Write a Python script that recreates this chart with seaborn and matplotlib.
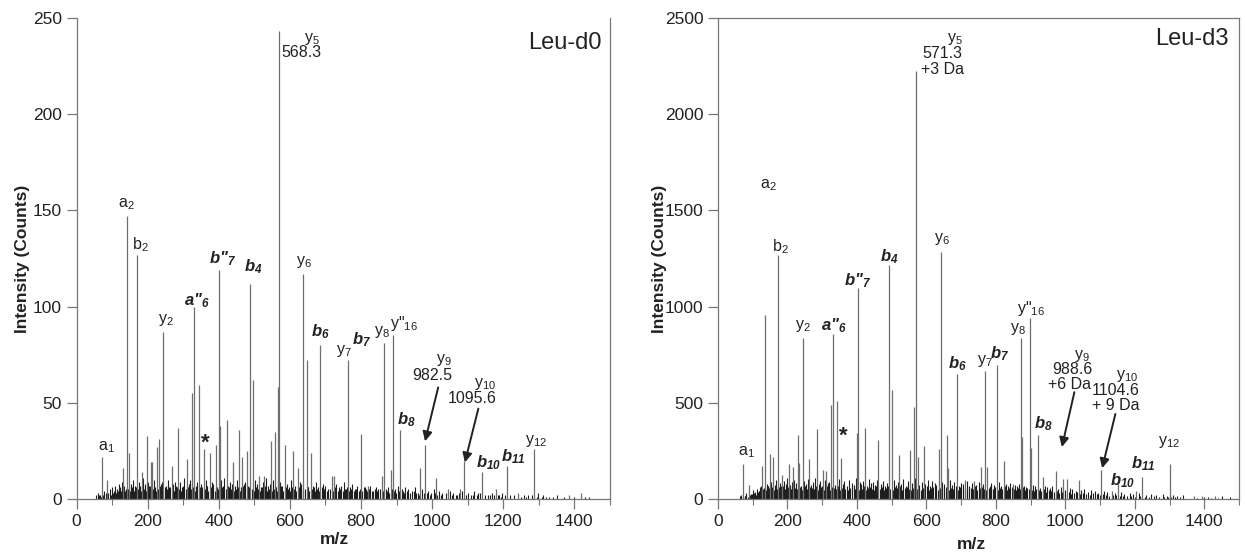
import matplotlib
matplotlib.use("Agg")
import matplotlib.pyplot as plt
import seaborn as sns
import pandas as pd
from matplotlib.ticker import MultipleLocator

# ---------------- data: Leu-d0 (left) ----------------
L_mz = [72, 86, 130, 143, 148, 170, 183, 197, 208, 213, 227, 232, 244, 267, 286, 310, 324, 330, 343, 358,
        374, 391, 400, 402, 422, 441, 457, 466, 478, 489, 497, 514, 528, 548, 558, 566, 568, 585, 608, 622,
        638, 647, 658, 686, 717, 724, 763, 799, 819, 858, 866, 883, 889, 911, 967, 980, 1011, 1044, 1078, 1091,
        1141, 1180, 1211, 1241, 1286, 1386, 1419]
L_int = [22, 10, 16, 147, 24, 127, 14, 33, 19, 19, 27, 31, 87, 17, 37, 21, 55, 100, 59, 26,
         24, 28, 119, 38, 41, 19, 36, 22, 25, 112, 62, 12, 12, 30, 35, 58, 243, 28, 25, 16,
         117, 72, 24, 80, 12, 12, 72, 34, 7, 12, 81, 15, 85, 36, 16, 28, 11, 5, 5, 20,
         14, 5, 17, 3, 26, 2, 3]
LN_mz = [56, 61, 66, 78, 83, 93, 99, 104, 109, 114,
         118, 123, 127, 134, 138, 152, 156, 160, 165, 176,
         179, 188, 192, 201, 204, 217, 221, 237, 240, 251,
         256, 261, 272, 277, 281, 292, 296, 302, 315, 319,
         335, 339, 350, 354, 363, 368, 380, 384, 395, 407,
         411, 416, 428, 432, 437, 446, 450, 462, 471, 475,
         483, 503, 507, 519, 523, 533, 537, 543, 553, 562,
         573, 578, 591, 597, 603, 614, 628, 632, 652, 665,
         672, 679, 693, 700, 708, 730, 737, 744, 751, 757,
         770, 775, 782, 789, 808, 814, 826, 833, 841, 849,
         872, 877, 896, 903, 918, 925, 933, 943, 951, 959,
         972, 988, 996, 1004, 1019, 1029, 1051, 1060, 1069, 1084,
         1100, 1108, 1119, 1129, 1158, 1168, 1189, 1197, 1229, 1258,
         1269, 1299, 1313, 1329, 1350, 1399, 1440]
LN_int = [2, 3, 2, 4, 3, 5, 6, 4, 7, 5,
          8, 6, 9, 7, 5, 8, 6, 10, 7, 9,
          6, 11, 8, 9, 7, 10, 6, 8, 9, 7,
          10, 6, 8, 9, 7, 9, 6, 11, 8, 10,
          7, 9, 8, 6, 10, 7, 9, 8, 6, 10,
          7, 11, 6, 9, 8, 7, 10, 6, 8, 9,
          7, 10, 8, 6, 9, 11, 7, 8, 10, 6,
          9, 7, 8, 6, 10, 7, 9, 8, 6, 7,
          9, 6, 8, 7, 5, 8, 6, 7, 9, 5,
          6, 8, 5, 7, 6, 5, 7, 4, 6, 5,
          4, 6, 5, 7, 4, 6, 5, 4, 6, 3,
          5, 4, 3, 5, 4, 3, 4, 3, 2, 4,
          3, 2, 4, 3, 2, 3, 2, 3, 2, 2,
          2, 3, 2, 1, 2, 1, 1]
LN2_mz = [59, 64, 70, 75, 88, 96, 102, 107, 112, 116,
          120, 125, 129, 132, 136, 141, 146, 150, 154, 158,
          162, 167, 173, 178, 181, 186, 190, 195, 199, 203,
          206, 211, 215, 219, 224, 229, 235, 242, 248, 254,
          259, 264, 270, 275, 283, 289, 294, 300, 307, 313,
          318, 322, 327, 333, 338, 346, 352, 361, 366, 371,
          377, 383, 388, 393, 398, 405, 410, 419, 425, 430,
          435, 439, 444, 449, 455, 460, 468, 473, 481, 486,
          492, 500, 505, 511, 517, 522, 526, 531, 536, 541,
          546, 551, 556, 560, 564, 571, 576, 581, 588, 594,
          599, 606, 611, 617, 625, 630, 636, 643, 650, 655,
          661, 667, 670, 677, 683, 690, 697, 705, 712, 720,
          727, 734, 741, 748, 755, 761, 766, 772, 779, 786,
          793, 797, 804, 811, 817, 823, 830, 838, 845, 853,
          861, 869, 875, 880, 886, 893, 899, 908, 915, 922,
          930, 938, 948, 956, 964, 976, 985, 993, 1008, 1015,
          1025, 1040, 1056, 1066, 1075, 1095, 1115, 1125, 1136, 1150,
          1163, 1175, 1185, 1193, 1205, 1220, 1250, 1265, 1280, 1295,
          1308, 1320, 1340, 1370, 1430]
LN2_int = [1, 2, 1, 2, 3, 2, 3, 4, 3, 4,
           5, 4, 6, 5, 4, 6, 5, 4, 6, 5,
           4, 6, 5, 7, 4, 6, 5, 4, 6, 5,
           7, 4, 5, 6, 4, 5, 7, 4, 6, 5,
           4, 6, 5, 4, 6, 5, 4, 7, 5, 6,
           4, 5, 6, 4, 5, 6, 4, 5, 7, 4,
           6, 5, 4, 6, 5, 4, 6, 5, 7, 4,
           5, 6, 4, 5, 6, 4, 7, 5, 4, 6,
           5, 4, 6, 5, 4, 6, 5, 7, 4, 5,
           6, 4, 5, 6, 4, 5, 7, 4, 6, 5,
           4, 6, 5, 4, 6, 5, 4, 5, 6, 4,
           5, 6, 4, 5, 4, 6, 5, 4, 5, 4,
           6, 4, 5, 4, 5, 6, 4, 5, 4, 5,
           4, 5, 4, 6, 4, 5, 4, 5, 4, 5,
           4, 5, 4, 3, 5, 4, 3, 4, 5, 3,
           4, 3, 4, 3, 2, 3, 3, 2, 3, 2,
           2, 3, 2, 2, 3, 2, 2, 2, 3, 2,
           2, 2, 2, 1, 2, 2, 1, 1, 2, 1,
           1, 1, 1, 1, 1]

# ---------------- data: Leu-d3 (right) ----------------
R_mz = [71, 88, 128, 136, 149, 159, 172, 185, 203, 216, 231, 233, 244, 263, 285, 302, 311, 326, 331, 343,
        354, 400, 403, 423, 462, 493, 501, 522, 554, 563, 570, 575, 592, 635, 641, 660, 662, 689, 712, 737,
        757, 769, 775, 803, 823, 849, 872, 875, 897, 900, 920, 935, 973, 994, 1006, 1038, 1104, 1135, 1152, 1204,
        1221, 1301, 1370, 1392, 1432]
R_int = [182, 75, 173, 957, 234, 217, 1266, 127, 182, 165, 334, 185, 835, 208, 364, 151, 147, 490, 858, 508,
         213, 341, 1095, 367, 308, 1214, 567, 229, 255, 480, 2227, 216, 274, 260, 1284, 334, 161, 650, 100, 95,
         168, 667, 165, 698, 196, 78, 835, 324, 939, 263, 331, 113, 144, 104, 104, 100, 151, 43, 78, 43,
         116, 182, 17, 17, 17]
RN_mz = [62, 67, 77, 82, 95, 100, 106, 112, 117, 121,
         125, 132, 141, 145, 153, 163, 167, 178, 181, 190,
         195, 199, 208, 212, 220, 226, 238, 249, 254, 258,
         268, 273, 279, 290, 294, 298, 307, 316, 320, 336,
         348, 359, 364, 370, 377, 385, 391, 396, 408, 413,
         418, 428, 434, 440, 446, 452, 457, 468, 474, 480,
         486, 507, 512, 517, 528, 534, 540, 546, 558, 566,
         580, 586, 597, 604, 610, 616, 624, 629, 646, 652,
         668, 674, 680, 695, 701, 706, 718, 724, 730, 743,
         750, 763, 782, 787, 795, 809, 815, 830, 836, 842,
         855, 861, 866, 881, 887, 906, 912, 927, 942, 948,
         955, 962, 980, 987, 1000, 1013, 1020, 1030, 1046, 1055,
         1066, 1075, 1085, 1095, 1112, 1120, 1143, 1160, 1170, 1185,
         1194, 1212, 1232, 1248, 1262, 1280, 1292, 1310, 1322, 1340,
         1410, 1450, 1475]
RN_int = [15, 20, 18, 30, 25, 45, 35, 50, 40, 60,
          70, 55, 80, 65, 90, 75, 100, 85, 70, 95,
          80, 110, 75, 90, 100, 85, 70, 95, 80, 105,
          75, 90, 110, 80, 95, 70, 100, 85, 90, 75,
          105, 80, 95, 70, 100, 85, 75, 110, 90, 80,
          95, 70, 105, 85, 90, 75, 100, 80, 95, 70,
          85, 100, 75, 90, 80, 105, 70, 95, 85, 110,
          75, 90, 80, 100, 70, 95, 85, 75, 90, 80,
          100, 75, 90, 70, 85, 80, 95, 70, 85, 75,
          90, 80, 70, 85, 75, 90, 65, 80, 70, 85,
          75, 65, 80, 70, 60, 75, 65, 55, 70, 60,
          55, 65, 50, 60, 45, 55, 50, 40, 45, 50,
          35, 45, 40, 30, 40, 35, 30, 35, 25, 30,
          25, 30, 20, 25, 20, 25, 18, 22, 15, 20,
          12, 15, 10]
RN2_mz = [73, 79, 85, 91, 97, 103, 109, 114, 119, 123,
          127, 130, 134, 139, 143, 147, 151, 156, 161, 165,
          170, 175, 180, 184, 188, 193, 197, 201, 206, 210,
          214, 218, 223, 228, 235, 241, 246, 251, 256, 261,
          266, 271, 276, 282, 287, 292, 296, 300, 305, 309,
          314, 318, 323, 329, 334, 339, 345, 350, 357, 362,
          367, 373, 380, 387, 393, 398, 406, 411, 416, 421,
          426, 431, 437, 443, 449, 455, 460, 465, 471, 477,
          483, 489, 496, 504, 510, 515, 520, 525, 531, 537,
          543, 549, 556, 561, 568, 573, 578, 584, 590, 595,
          601, 607, 613, 619, 627, 633, 639, 644, 650, 656,
          664, 671, 677, 684, 692, 698, 704, 710, 716, 722,
          728, 735, 741, 747, 754, 760, 766, 772, 779, 785,
          791, 798, 806, 812, 818, 826, 833, 839, 846, 852,
          858, 864, 869, 878, 884, 890, 895, 903, 909, 915,
          924, 931, 939, 945, 952, 959, 966, 977, 983, 991,
          998, 1010, 1017, 1025, 1034, 1042, 1050, 1060, 1070, 1080,
          1090, 1100, 1108, 1116, 1125, 1138, 1147, 1156, 1165, 1178,
          1190, 1200, 1215, 1228, 1240, 1255, 1270, 1285, 1296, 1305,
          1316, 1330, 1380, 1398, 1420, 1440]
RN2_int = [10, 15, 12, 20, 25, 30, 22, 35, 40, 45,
           55, 50, 60, 45, 65, 55, 50, 60, 45, 55,
           50, 60, 45, 55, 65, 50, 45, 60, 55, 50,
           65, 45, 55, 50, 60, 45, 55, 65, 50, 45,
           60, 55, 50, 65, 45, 55, 60, 50, 45, 55,
           65, 50, 45, 60, 55, 50, 65, 45, 55, 60,
           50, 45, 55, 65, 50, 60, 45, 55, 50, 65,
           45, 55, 60, 50, 45, 65, 55, 50, 60, 45,
           55, 65, 50, 45, 60, 55, 50, 65, 45, 55,
           60, 50, 45, 55, 65, 50, 60, 45, 55, 50,
           65, 45, 55, 60, 50, 45, 55, 65, 50, 60,
           45, 55, 50, 65, 45, 60, 55, 50, 45, 60,
           55, 50, 65, 45, 55, 60, 50, 45, 55, 65,
           50, 60, 45, 55, 50, 65, 45, 55, 60, 50,
           45, 55, 50, 60, 45, 55, 50, 45, 40, 50,
           45, 40, 50, 35, 45, 40, 35, 40, 30, 35,
           30, 35, 25, 30, 35, 25, 30, 25, 20, 30,
           25, 20, 25, 20, 18, 22, 20, 15, 18, 15,
           15, 12, 15, 10, 12, 15, 10, 12, 10, 8,
           10, 8, 6, 8, 6, 5]

# labels: (text, m/z, intensity, bold-italic)
L_labels = [("a$_{1}$", 83, 27, False), ("a$_{2}$", 141, 153, False), ("b$_{2}$", 180, 132, False),
            ("y$_{2}$", 252, 93, False), ('a"$_{6}$', 338, 103, True), ("*", 361, 29, False),
            ('b"$_{7}$', 411, 125, True), ("b$_{4}$", 497, 121, True), ("y$_{6}$", 639, 123, False),
            ("b$_{6}$", 686, 87, True), ("y$_{7}$", 752, 77, False), ("b$_{7}$", 802, 83, True),
            ("y$_{8}$", 858, 87, False), ('y"$_{16}$', 922, 91, False), ("b$_{8}$", 927, 41, True),
            ("y$_{9}$", 1032, 72, False), ("982.5", 1000, 64, False),
            ("y$_{10}$", 1150, 60, False), ("1095.6", 1113, 52, False),
            ("b$_{10}$", 1158, 19, True), ("b$_{11}$", 1228, 22, True), ("y$_{12}$", 1293, 30, False),
            ("y$_{5}$", 663, 239, False), ("568.3", 632, 232, False)]
L_arrows = [((1017, 58), (980, 30)), ((1130, 47), (1092, 19))]

R_labels = [("a$_{1}$", 82, 245, False), ("a$_{2}$", 145, 1631, False), ("b$_{2}$", 180, 1310, False),
            ("y$_{2}$", 245, 901, False), ('a"$_{6}$', 334, 901, True), ("*", 360, 325, False),
            ('b"$_{7}$', 403, 1135, True), ("b$_{4}$", 494, 1257, True), ("y$_{6}$", 645, 1350, False),
            ("y$_{5}$", 681, 2390, False), ("571.3", 645, 2314, False), ("+3 Da", 645, 2231, False),
            ('y"$_{16}$', 900, 988, False), ("y$_{8}$", 864, 884, False), ("b$_{6}$", 689, 702, True),
            ("y$_{7}$", 767, 719, False), ("b$_{7}$", 811, 754, True), ("b$_{8}$", 937, 390, True),
            ("y$_{9}$", 1049, 745, False), ("988.6", 1021, 672, False), ("+6 Da", 1013, 594, False),
            ("y$_{10}$", 1178, 641, False), ("1104.6", 1146, 563, False), ("+ 9 Da", 1146, 485, False),
            ("b$_{10}$", 1164, 95, True), ("b$_{11}$", 1224, 182, True), ("y$_{12}$", 1299, 295, False)]
R_arrows = [((1026, 555), (990, 270)), ((1144, 442), (1106, 160))]

# ---------------- style ----------------
sns.set_theme(style="ticks")
plt.rcParams["font.family"] = ["Liberation Sans", "DejaVu Sans"]
plt.rcParams["mathtext.default"] = "regular"

fig = plt.figure(figsize=(12.45, 5.55), dpi=100)
axL = fig.add_axes([0.0615, 0.1009, 0.4284, 0.8667])
axR = fig.add_axes([0.5767, 0.1009, 0.4185, 0.8667])

TXT = "#222222"


def draw(ax, mz, inten, nmz, nint, nmz2, nint2, labels, arrows, ymax, ystep, name, name_pos, top_spine):
    main = pd.DataFrame({"mz": mz, "intensity": inten})
    noise = pd.DataFrame({"mz": nmz + nmz2, "intensity": nint + nint2})
    ax.vlines(noise["mz"], 0, noise["intensity"], color="#1e1e1e", lw=0.8)
    ax.vlines(main["mz"], 0, main["intensity"], color="#6e6e6e", lw=0.9)
    ax.set_xlim(0, 1500)
    ax.set_ylim(0, ymax)
    ax.xaxis.set_major_locator(MultipleLocator(200))
    ax.xaxis.set_minor_locator(MultipleLocator(100))
    ax.yaxis.set_major_locator(MultipleLocator(ystep))
    for s in ax.spines.values():
        s.set_color("#777777")
        s.set_linewidth(0.9)
    ax.spines["top"].set_visible(top_spine)
    ax.tick_params(axis="both", which="major", labelsize=12.5, colors="#777777",
                   labelcolor=TXT, length=7, width=0.9, direction="out")
    ax.tick_params(axis="x", which="minor", length=4, width=0.8, colors="#777777")
    ax.set_xlabel("m/z", fontsize=12.5, fontweight="bold", color=TXT)
    ax.set_ylabel("Intensity (Counts)", fontsize=12.5, fontweight="bold", color=TXT)
    for text, x, y, bi in labels:
        if text == "*":
            ax.text(x, y, text, ha="center", va="center", fontsize=16, color=TXT, fontweight="bold")
        elif bi:
            ax.text(x, y, text, ha="center", va="center", fontsize=12, color=TXT,
                    fontweight="bold", fontstyle="italic")
        else:
            ax.text(x, y, text, ha="center", va="center", fontsize=11.5, color=TXT)
    for start, end in arrows:
        ax.annotate("", xy=end, xytext=start,
                    arrowprops=dict(arrowstyle="-|>", color=TXT, lw=1.4, mutation_scale=14,
                                    shrinkA=0, shrinkB=0))
    ax.text(name_pos[0], name_pos[1], name, transform=ax.transAxes, ha="right", va="center",
            fontsize=17, color=TXT)


draw(axL, L_mz, L_int, LN_mz, LN_int, LN2_mz, LN2_int, L_labels, L_arrows, 250, 50,
     "Leu-d0", (0.985, 0.947), False)
draw(axR, R_mz, R_int, RN_mz, RN_int, RN2_mz, RN2_int, R_labels, R_arrows, 2500, 500,
     "Leu-d3", (0.981, 0.956), True)

axL.yaxis.set_label_coords(-0.088, 0.5)
axR.yaxis.set_label_coords(-0.097, 0.5)
axL.xaxis.set_label_coords(0.483, -0.068)
axR.xaxis.set_label_coords(0.486, -0.08)

fig.savefig("out.png", dpi=100)
